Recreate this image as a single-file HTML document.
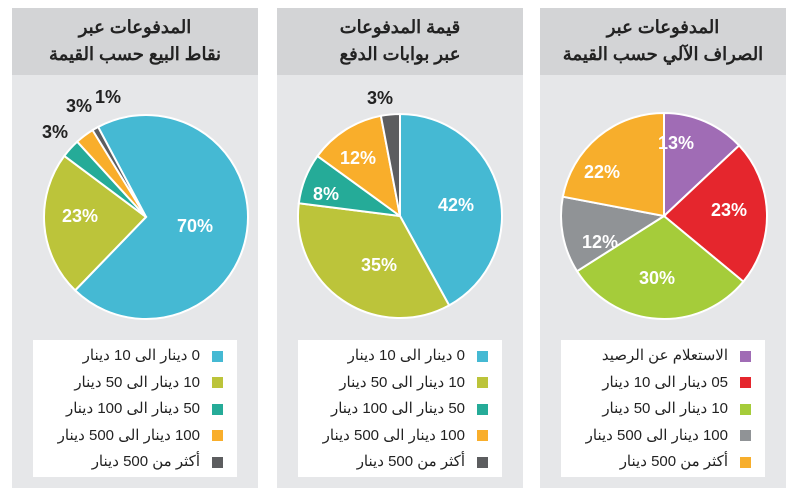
<!DOCTYPE html><html><head><meta charset="utf-8"><style>
body{margin:0;width:800px;height:495px;background:#fff;font-family:"Liberation Sans","Noto Sans CJK SC",sans-serif;overflow:hidden;position:relative}
.p{position:absolute;top:8px;width:246px;height:480px;background:#e6e7e9}
.t{height:67px;background:#d3d4d6;text-align:center;font-weight:bold;font-size:18px;line-height:27px;padding-top:6px;box-sizing:border-box;color:#222;direction:rtl}
.lg{position:absolute;left:21px;top:332px;width:204px;height:137px;background:#fff;direction:rtl;padding-top:3px;box-sizing:border-box}
.r{height:26.5px;line-height:26.5px;font-size:15px;color:#222;padding-right:14px;display:flex;align-items:center}
.r i{width:11px;height:11px;margin-left:12px;display:inline-block}
svg{position:absolute;left:0;top:0}
</style></head><body>
<div class="p" style="left:12px"><div class="t">المدفوعات عبر<br>نقاط البيع حسب القيمة</div>
<div class="lg"><div class="r"><i style="background:#45b9d3"></i>0 دينار الى 10 دينار</div><div class="r"><i style="background:#bcc43a"></i>10 دينار الى 50 دينار</div><div class="r"><i style="background:#25ab98"></i>50 دينار الى 100 دينار</div><div class="r"><i style="background:#f9ae2b"></i>100 دينار الى 500 دينار</div><div class="r"><i style="background:#5c5d5f"></i>أكثر من 500 دينار</div></div></div>
<div class="p" style="left:277px"><div class="t">قيمة المدفوعات<br>عبر بوابات الدفع</div>
<div class="lg"><div class="r"><i style="background:#45b9d3"></i>0 دينار الى 10 دينار</div><div class="r"><i style="background:#bcc43a"></i>10 دينار الى 50 دينار</div><div class="r"><i style="background:#25ab98"></i>50 دينار الى 100 دينار</div><div class="r"><i style="background:#f9ae2b"></i>100 دينار الى 500 دينار</div><div class="r"><i style="background:#5c5d5f"></i>أكثر من 500 دينار</div></div></div>
<div class="p" style="left:540px"><div class="t">المدفوعات عبر<br>الصراف الآلي حسب القيمة</div>
<div class="lg"><div class="r"><i style="background:#a06cb5"></i>الاستعلام عن الرصيد</div><div class="r"><i style="background:#e5262d"></i>05 دينار الى 10 دينار</div><div class="r"><i style="background:#a5cc3a"></i>10 دينار الى 50 دينار</div><div class="r"><i style="background:#909396"></i>100 دينار الى 500 دينار</div><div class="r"><i style="background:#f7ae2c"></i>أكثر من 500 دينار</div></div></div>
<svg id="s" width="800" height="495" font-family="Liberation Sans,sans-serif" font-weight="bold"></svg>
<script>
var s=document.getElementById('s'),h='';
function pie(cx,cy,r,start,data){var a=start;data.forEach(function(d){var a2=a+d[0]*3.6;var f=function(x){var t=(x-90)*Math.PI/180;return [cx+r*Math.cos(t),cy+r*Math.sin(t)]};var p1=f(a),p2=f(a2);
h+='<path d="M'+cx+','+cy+'L'+p1[0]+','+p1[1]+'A'+r+','+r+' 0 '+(a2-a>180?1:0)+' 1 '+p2[0]+','+p2[1]+'Z" fill="'+d[1]+'" stroke="#fff" stroke-width="2"/>';a=a2;});}
pie(146,217,102,-28,[[70,'#45b9d3'],[23,'#bcc43a'],[3,'#25ab98'],[3,'#f9ae2b'],[1,'#5c5d5f']]);
pie(400,216,102,0,[[42,'#45b9d3'],[35,'#bcc43a'],[8,'#25ab98'],[12,'#f9ae2b'],[3,'#5c5d5f']]);
pie(664,216,103,0,[[13,'#a06cb5'],[23,'#e5262d'],[30,'#a5cc3a'],[12,'#909396'],[22,'#f7ae2c']]);
function t(x,y,s,c){h+='<text x="'+x+'" y="'+y+'" fill="'+c+'" font-size="18" text-anchor="middle">'+s+'</text>';}
t(195,232,'70%','#fff');t(80,222,'23%','#fff');t(55,138,'3%','#222');t(79,112,'3%','#222');t(108,103,'1%','#222');
t(456,211,'42%','#fff');t(379,271,'35%','#fff');t(326,200,'8%','#fff');t(358,164,'12%','#fff');t(380,104,'3%','#222');
t(676,149,'13%','#fff');t(729,216,'23%','#fff');t(657,284,'30%','#fff');t(600,248,'12%','#fff');t(602,178,'22%','#fff');
s.innerHTML=h;
</script></body></html>
